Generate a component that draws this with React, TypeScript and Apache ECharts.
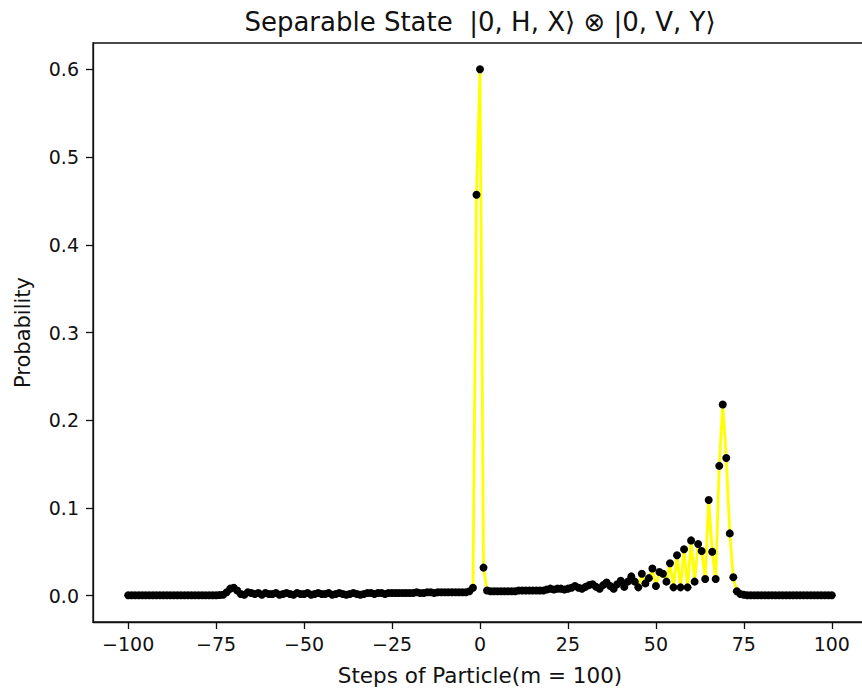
import React, { useEffect, useRef } from "react";
import * as echarts from "echarts";

const titleText = "Separable State  |0, H, X⟩ ⊗ |0, V, Y⟩";
const xName = "Steps of Particle(m = 100)";
const yName = "Probability";
const xTicks = [-100, -75, -50, -25, 0, 25, 50, 75, 100];
const yTicks = [0, 0.1, 0.2, 0.3, 0.4, 0.5, 0.6];

const firstStep = -100;
const lastStep = 100;

// probabilities for steps -100 .. 100
const probabilities = [
  0.0005, 0.0005, 0.0005, 0.0005, 0.0005, 0.0005, 0.0005, 0.0005, 0.0005, 0.0005,
  0.0005, 0.0005, 0.0005, 0.0005, 0.0005, 0.0005, 0.0005, 0.0005, 0.0005, 0.0005,
  0.0005, 0.0005, 0.0005, 0.0005, 0.0005, 0.0005, 0.0007, 0.001, 0.004, 0.008,
  0.009, 0.006, 0.002, 0.001, 0.004, 0.003, 0.002, 0.003, 0.001, 0.003,
  0.002, 0.002, 0.003, 0.001, 0.002, 0.003, 0.002, 0.001, 0.003, 0.002,
  0.002, 0.003, 0.001, 0.002, 0.003, 0.002, 0.002, 0.003, 0.001, 0.002,
  0.003, 0.002, 0.001, 0.002, 0.003, 0.002, 0.001, 0.002, 0.003, 0.003,
  0.002, 0.003, 0.003, 0.002, 0.003, 0.003, 0.003, 0.003, 0.003, 0.003,
  0.003, 0.003, 0.004, 0.003, 0.003, 0.004, 0.004, 0.003, 0.004, 0.004,
  0.004, 0.004, 0.004, 0.004, 0.004, 0.004, 0.004, 0.005, 0.009, 0.457,
  0.600, 0.032, 0.006, 0.005, 0.005, 0.005, 0.005, 0.005, 0.005, 0.005,
  0.005, 0.006, 0.006, 0.006, 0.006, 0.006, 0.006, 0.006, 0.006, 0.007,
  0.008, 0.007, 0.008, 0.008, 0.007, 0.008, 0.009, 0.011, 0.009, 0.008,
  0.010, 0.012, 0.013, 0.010, 0.008, 0.012, 0.015, 0.011, 0.008, 0.013,
  0.017, 0.010, 0.016, 0.022, 0.016, 0.0095, 0.025, 0.014, 0.020, 0.031,
  0.011, 0.027, 0.025, 0.016, 0.037, 0.0095, 0.046, 0.0095, 0.053, 0.0095,
  0.063, 0.016, 0.059, 0.051, 0.019, 0.109, 0.050, 0.019, 0.148, 0.218,
  0.157, 0.071, 0.021, 0.005, 0.002, 0.001, 0.0005, 0.0005, 0.0005, 0.0005,
  0.0005, 0.0005, 0.0005, 0.0005, 0.0005, 0.0005, 0.0005, 0.0005, 0.0005, 0.0005,
  0.0005, 0.0005, 0.0005, 0.0005, 0.0005, 0.0005, 0.0005, 0.0005, 0.0005, 0.0005,
  0.0005,
];

const steps: number[] = [];
for (let s = firstStep; s <= lastStep; s++) steps.push(s);

const FONT = "DejaVu Sans";
const INK = "#111";

export default function App() {
  const ref = useRef<HTMLDivElement>(null);
  useEffect(() => {
    if (!ref.current) return;
    const chart = echarts.init(ref.current, undefined, { renderer: "svg" });
    const data = steps.map((s, i) => [s, probabilities[i]]);
    chart.setOption({
      animation: false,
      backgroundColor: "#ffffff",
      textStyle: { fontFamily: FONT },
      graphic: [
        {
          type: "text",
          x: 480,
          y: 22,
          style: {
            text: titleText,
            font: `26px '${FONT}'`,
            fill: INK,
            textAlign: "center",
            textVerticalAlign: "middle",
          },
        },
      ],
      grid: {
        left: 93,
        width: 774,
        top: 43,
        bottom: 68,
        outerBoundsMode: "none",
        containLabel: false,
        show: true,
        borderColor: INK,
        borderWidth: 1.3,
        backgroundColor: "transparent",
      },
      xAxis: {
        type: "value",
        min: -110,
        max: 110,
        name: xName,
        nameLocation: "middle",
        nameGap: 42,
        nameTextStyle: { fontFamily: FONT, fontSize: 21.5, color: INK },
        axisLine: { show: true, onZero: false, lineStyle: { color: INK, width: 1.3 } },
        axisTick: {
          show: true,
          length: 7,
          customValues: xTicks,
          lineStyle: { color: INK, width: 1.3 },
        },
        axisLabel: {
          customValues: xTicks,
          margin: 12,
          fontFamily: FONT,
          fontSize: 19,
          color: INK,
          formatter: (v: number) => (v < 0 ? "\u2212" + Math.abs(v) : String(v)),
        },
        splitLine: { show: false },
      },
      yAxis: {
        type: "value",
        min: -0.03,
        max: 0.63,
        name: yName,
        nameLocation: "middle",
        nameGap: 60,
        nameTextStyle: { fontFamily: FONT, fontSize: 21, color: INK },
        axisLine: { show: true, onZero: false, lineStyle: { color: INK, width: 1.3 } },
        axisTick: {
          show: true,
          length: 7,
          customValues: yTicks,
          lineStyle: { color: INK, width: 1.3 },
        },
        axisLabel: {
          customValues: yTicks,
          margin: 14,
          fontFamily: FONT,
          fontSize: 19,
          color: INK,
          formatter: (v: number) => v.toFixed(1),
        },
        splitLine: { show: false },
      },
      series: [
        {
          type: "line",
          data,
          symbol: "circle",
          symbolSize: 8,
          showSymbol: true,
          itemStyle: { color: "#000", borderWidth: 0 },
          lineStyle: { color: "#ffff00", width: 2.8 },
          emphasis: { disabled: true },
        },
      ],
    });
    return () => chart.dispose();
  }, []);
  return (
    <div
      ref={ref}
      style={{ position: "absolute", left: 0, top: 0, width: 862, height: 690 }}
    />
  );
}
